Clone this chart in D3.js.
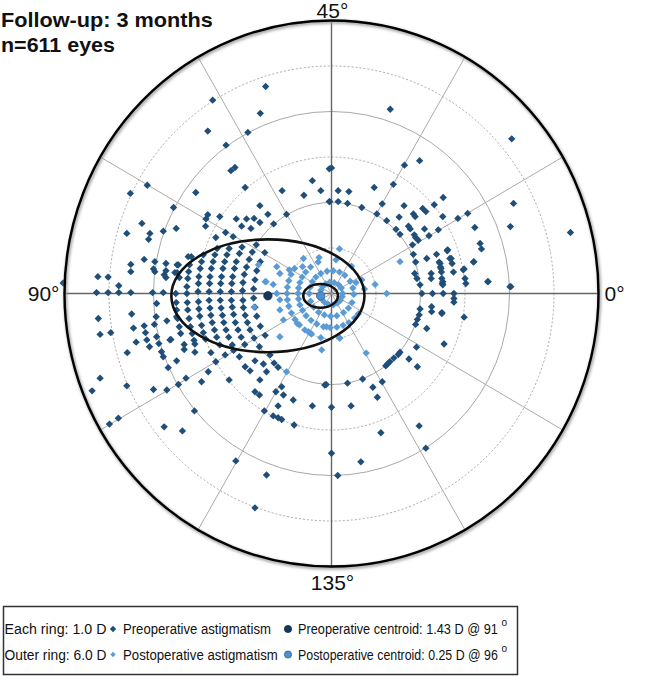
<!DOCTYPE html>
<meta charset="utf-8">
<title>Astigmatism double-angle plot</title>
<style>
body{ margin:0; background:white; }
svg text{ font-family: "Liberation Sans", Arial, sans-serif; fill:#111; }
</style>
<body>
<script src="https://cdn.jsdelivr.net/npm/d3@7"></script>
<script>

var width = 654, height = 676;
var cx = 331.5, cy = 293.5, rx = 267, ry = 273;

var titleLines = ['Follow-up: 3 months', 'n=611 eyes'];
var ringValues = [1, 2, 3, 4, 5, 6];
var spokeAngles = d3.range(0, 360, 30); // double-angle directions of the spokes
var axisLabels = [{axis: 0, text: '0\u00b0'}, {axis: 45, text: '45\u00b0'}, {axis: 90, text: '90\u00b0'}, {axis: 135, text: '135\u00b0'}];

// double-angle vector components [x, y] in dioptres
var preop = [
	// upper left
	[-1.48,4.55],[-2.67,4.25],[-1.60,3.96],[-2.78,3.57],[-1.88,3.54],[-2.37,3.26],[-2.17,2.77],[-2.26,2.70],
	[-4.14,2.38],[-4.52,2.20],[-3.05,2.22],[-1.94,2.33],[-0.43,2.48],[-1.11,2.26],[-0.62,2.16],[-0.24,2.26],
	[-0.05,2.74],[-0.05,2.02],[-1.61,1.93],[-1.43,1.74],[-1.01,1.74],[-3.55,1.89],[-2.78,1.73],[-2.82,1.64],
	[-2.51,1.69],[-2.14,1.64],[-4.26,1.54],[-4.60,1.32],[-4.08,1.32],[-4.11,1.19],[-3.78,1.37],[-3.49,1.43],
	[-2.83,1.48],[-2.21,1.25],[-2.02,1.48],[-1.91,1.64],[-1.74,1.65],[-1.61,1.56],[-1.81,1.43],[-1.30,1.53],
	[-2.38,1.34],[-2.60,1.23],
	[-5.25,0.37],[-5.02,0.36],[-4.78,0.17],[-4.51,0.64],[-4.51,0.48],[-4.21,0.75],[-3.97,0.70],[-3.97,0.48],
	[-3.72,0.66],[-3.72,0.50],[-3.72,0.35],[-3.47,0.63],[-3.42,0.35],[-3.22,0.81],[-6.03,0.23],
	[-5.28,0.02],[-5.02,0.02],[-4.78,0.02],[-4.51,0.02],[-4.02,0.02],[-3.78,0.02],[-4.0,0.54],[-3.76,0.41],[-3.52,0.46],
	// lower left
	[-5.24,-0.55],[-5.20,-0.90],[-4.96,-0.86],[-4.49,-0.45],[-4.45,-0.76],[-4.21,-0.71],[-4.18,-0.86],[-4.15,-1.02],
	[-3.93,-0.22],[-3.94,-0.51],[-3.93,-0.95],[-3.70,-0.60],[-3.61,-1.01],[-3.48,-0.51],
	[-4.39,-1.07],[-4.59,-1.30],[-4.09,-1.17],[-3.98,-0.68],[-3.88,-1.10],[-3.82,-1.28],[-3.78,-1.39],[-3.63,-1.02],
	[-3.67,-1.63],[-3.48,-1.48],[-3.44,-2.00],[-3.31,-1.12],[-3.31,-1.23],[-3.27,-1.86],[-3.07,-1.11],[-3.07,-1.29],
	[-2.92,-1.94],[-2.77,-1.72],[-2.71,-1.30],[-2.60,-1.50],[-2.39,-1.35],[-2.30,-1.90],[-2.20,-1.25],[-2.07,-1.39],
	[-1.94,-1.61],[-1.83,-1.70],[-1.72,-1.48],[-1.72,-2.16],[-1.62,-2.23],[-1.61,-1.90],[-1.53,-1.55],[-1.46,-1.72],
	[-1.38,-1.35],[-1.29,-1.53],[-1.25,-2.16],[-1.20,-1.62],[-1.12,-2.05],[-1.08,-2.23],[-1.20,-2.47],[-1.31,-2.69],
	[-1.20,-2.73],[-1.12,-2.77],[-1.51,-2.58],[-0.86,-2.34],[-0.84,-2.89],[-0.43,-2.47],[-0.15,-2.01],[0,-2.50],
	[0,-3.51],[-3.08,-2.58],[-3.76,-2.93],[-3.35,-3.02],[-4.79,-2.74],[-4.99,-2.87],[-5.38,-2.14],[-5.20,-1.86],
	[-4.60,-2.03],[-4.00,-2.11],[-3.70,-2.12],[-2.15,-3.68],[-1.46,-3.99],[-1.72,-4.71],
	// dense band left of centre
	[-3.44,0.63],[-3.47,0.46],[-3.5,0],[-3.49,-0.20],[-3.48,-0.36],[-3.46,-0.55],[-3.42,-0.73],[-3.39,-0.88],
	[-3.15,0.81],[-3.19,0.63],[-3.21,0.48],[-3.23,0.33],[-3.25,0.15],[-3.25,0],[-3.24,-0.20],[-3.23,-0.36],
	[-3.20,-0.55],[-3.17,-0.73],[-3.13,-0.88],[-3.09,-1.03],
	[-2.88,0.85],[-2.92,0.70],[-2.95,0.55],[-2.98,0.37],[-2.99,0.22],[-3.0,0.04],[-2.99,-0.18],[-2.98,-0.34],
	[-2.96,-0.50],[-2.92,-0.70],[-2.88,-0.86],[-2.83,-1.0],
	[-2.57,0.99],[-2.62,0.85],[-2.66,0.70],[-2.70,0.55],[-2.73,0.37],[-2.74,0.22],[-2.75,0.04],[-2.75,-0.15],
	[-2.73,-0.32],[-2.71,-0.48],[-2.68,-0.64],[-2.63,-0.80],[-2.58,-0.96],[-2.51,-1.13],
	[-2.30,0.99],[-2.35,0.85],[-2.40,0.70],[-2.44,0.55],[-2.47,0.37],[-2.49,0.22],[-2.5,0.04],[-2.5,-0.15],
	[-2.48,-0.32],[-2.45,-0.48],[-2.42,-0.64],[-2.37,-0.80],[-2.31,-0.96],[-2.23,-1.13],
	[-2.01,1.02],[-2.07,0.88],[-2.14,0.70],[-2.18,0.55],[-2.22,0.37],[-2.24,0.22],[-2.25,0.04],[-2.25,-0.15],
	[-2.23,-0.30],[-2.20,-0.46],[-2.16,-0.64],[-2.10,-0.80],[-2.03,-0.96],[-1.95,-1.12],
	[-1.69,1.07],[-1.78,0.91],[-1.85,0.75],[-1.91,0.58],[-1.96,0.42],[-1.99,0.24],[-2.0,0.06],[-1.99,-0.15],
	[-1.98,-0.31],[-1.94,-0.48],[-1.89,-0.64],[-1.83,-0.80],[-1.74,-0.98],[-1.62,-1.17],
	[-1.50,0.90],[-1.60,0.70],[-1.68,0.50],[-1.72,0.30],[-1.75,0.10],[-1.75,-0.10],[-1.72,-0.30],[-1.68,-0.50],
	[-1.60,-0.72],[-1.49,-0.92],
	// upper right
	[1.32,4.05],[4.05,3.40],[5.37,1.34],[4.09,1.98],[4.02,1.47],[4.01,0.15],[0,2.76],[-0.04,2.02],
	[0.15,2.02],[0.36,1.98],[0.15,2.26],[0.39,2.24],[0.68,1.89],[0.96,2.33],[1.02,1.75],[1.14,1.97],
	[1.39,2.40],[1.64,2.82],[1.98,2.92],[1.24,1.60],[1.45,1.41],[1.54,1.30],[1.52,1.68],[1.63,1.93],
	[1.84,1.75],[1.88,1.69],[2.05,1.87],[2.12,1.80],[2.31,1.95],[2.51,2.11],[2.50,1.69],[2.09,1.42],
	[1.73,1.48],[1.77,1.42],[1.86,1.29],[1.89,1.23],[1.95,1.17],[2.19,1.27],[2.40,1.40],[2.84,1.65],
	[3.06,1.76],[3.22,1.45],[3.34,1.10],[3.37,0.98],[3.20,0.70],[3.51,0.26],[1.82,1.07],[1.84,0.86],
	[1.89,0.69],[1.87,0.44],[1.92,0.33],[1.99,0.19],[2.14,0.77],[2.24,0.44],[2.24,0.33],[2.36,0.86],
	[2.42,0.69],[2.45,0.58],[2.47,0.47],[2.48,0.33],[2.49,0.22],[2.61,0.96],[2.69,0.77],[2.71,0.66],
	[2.74,0.47],[2.96,0.52],[3.0,0.33],[3.02,0.22],[2.60,0.94],[2.66,0.77],[2.44,0.66],[2.46,0.55],
	[2.50,0.26],[2.50,0.19],[3.19,0.69],[2.98,0.54],[3.52,0.26],[4.03,0.15],
	// lower right
	[2.03,0],[2.27,0],[2.51,0],[2.75,0],[2.75,-0.11],[2.75,-0.19],[2.48,-0.42],[2.98,-0.52],[2.53,-1.11],
	[2.25,-0.29],[2.25,-0.40],[2.48,-0.44],[1.99,-0.34],[1.97,-0.47],[1.93,-0.57],[1.89,-0.68],[2.14,-0.77],
	[1.91,-1.18],[1.93,-1.61],[1.74,-1.44],[1.54,-1.29],[1.50,-1.34],[1.40,-1.42],[1.31,-1.50],[1.26,-1.55],
	[1.22,-1.59],[0.70,-1.88],[0.36,-1.97],[-0.12,-2.0],[0.93,-2.06],[1.14,-1.94],[1.03,-2.28],[0.44,-2.47],
	[1.11,-3.06],[1.97,-2.91],[2.12,-3.40],[0.66,-3.70],[0.14,-4.00]
];

var postop = [
	[0.25,0],[0.22,0.12],[0.16,0.19],[0.06,0.24],[-0.04,0.25],[-0.13,0.21],[-0.20,0.15],[-0.24,0.07],
	[-0.25,-0.03],[-0.22,-0.12],[-0.16,-0.19],[-0.07,-0.24],[0.04,-0.25],[0.13,-0.21],[0.20,-0.15],[0.24,-0.07],
	[-0.50,0],[-0.48,0.14],[-0.43,0.26],[-0.35,0.36],[-0.24,0.44],[-0.10,0.49],[0.04,0.50],[0.18,0.47],
	[0.30,0.40],[0.42,0.27],[0.48,0.12],[0.50,-0.02],[0.46,-0.20],[0.38,-0.32],[0.27,-0.42],[0.12,-0.49],
	[-0.02,-0.50],[-0.16,-0.47],[-0.29,-0.41],[-0.40,-0.30],[-0.47,-0.17],
	[-0.75,0],[-0.74,0.12],[-0.71,0.24],[-0.66,0.36],[-0.58,0.47],[-0.47,0.58],[-0.74,-0.12],[-0.71,-0.25],
	[-0.65,-0.37],[-0.57,-0.49],[-0.46,-0.59],[-0.33,-0.67],[-0.18,-0.73],[-0.03,-0.75],[0.12,-0.74],[0.26,-0.70],
	[0.39,-0.64],[0.52,-0.54],[0.60,-0.45],[-0.30,0.69],[0.10,0.74],[0.45,0.60],[0.68,0.30],[0.74,0.10],
	[-1.0,0],[-0.99,0.14],[-0.96,0.28],[-0.91,0.42],[-0.83,0.55],[-0.99,-0.14],[-0.96,-0.28],[-0.90,-0.43],
	[-0.82,-0.57],[-0.72,-0.69],[-0.60,-0.80],[-0.45,-0.89],[-0.24,-0.97],[0.19,-0.98],[0.18,0.98],[-0.63,0.77],
	[0.98,0.20],
	[-1.23,0],[-1.31,0.20],[-1.16,0.44],[-1.23,0.59],[-1.49,0.26],[-1.64,0.63],[-1.74,-0.30],[-1.16,-0.14],
	[-1.16,-0.36],[-1.08,-0.58],[-1.16,-0.95],[-1.01,-1.72],[-0.77,-0.66],[-0.48,-0.87],[-0.22,-1.24],[0.78,-1.31],
	[0.18,-0.98],[-0.11,-0.73],[1.24,0],[1.54,0.70],[0.55,0.24],[-0.28,0.79],[-0.65,0.59],[-0.95,0.52],
	[-1.47,0.26],[-0.52,-0.84]
];

// centroids [magnitude D, axis deg] and 95% ellipse half-axes [D, D]
var preCentroid = [1.43, 91], postCentroid = [0.25, 96];
var preEllipse = [2.17, 1.24], postEllipse = [0.39, 0.26];

var legendNotes = ['Each ring: 1.0 D', 'Outer ring: 6.0 D'];
var legendPoints = ['Preoperative astigmatism', 'Postoperative astigmatism'];
var legendCentroids = ['Preoperative centroid: 1.43 D @ 91', 'Postoperative centroid: 0.25 D @ 96'];

var preColor = '#1f4e79', postColor = '#5b9bd5';
var preCentroidColor = '#15375c', postCentroidColor = '#4f8fcf';

var x = d3.scaleLinear().domain([-6, 6]).range([cx - rx, cx + rx]);
var y = d3.scaleLinear().domain([-6, 6]).range([cy + ry, cy - ry]);

function vec(m, axis){
	var a = axis * 2 * Math.PI / 180;
	return [m * Math.cos(a), m * Math.sin(a)];
}

// text scaled horizontally to the width it has in the figure
function fitText(g, str, px, py, size, len, bold){
	var t = g.append('text')
		.attr('x', 0).attr('y', 0)
		.attr('font-size', size)
		.attr('font-weight', bold ? 'bold' : null)
		.text(str);
	var natural = t.node().getComputedTextLength();
	t.attr('transform', 'translate(' + px + ',' + py + ') scale(' + (len / natural) + ',1)');
	return t;
}

var svg = d3.select('body').append('svg')
	.attr('width', width)
	.attr('height', height);

var defs = svg.append('defs');
defs.append('filter').attr('id', 'soft')
	.append('feGaussianBlur').attr('stdDeviation', 1.6);

// title
fitText(svg, titleLines[0], 1, 27, 20, 212, true);
fitText(svg, titleLines[1], 1, 52, 20, 114, true);

// rings
var grid = svg.append('g');
grid.selectAll('ellipse')
	.data(ringValues.slice(0, -1))
	.enter()
	.append('ellipse')
	.attr('cx', x(0))
	.attr('cy', y(0))
	.attr('rx', function(d){ return x(d) - x(0); })
	.attr('ry', function(d){ return y(0) - y(d); })
	.attr('fill', 'none')
	.attr('stroke', '#a8a8a8')
	.attr('stroke-width', 1)
	.attr('stroke-dasharray', function(d){ return d % 2 ? '2,2' : null; });

// spokes
grid.selectAll('line')
	.data(spokeAngles)
	.enter()
	.append('line')
	.attr('x1', x(0))
	.attr('y1', y(0))
	.attr('x2', function(d){ return x(6 * Math.cos(d * Math.PI / 180)); })
	.attr('y2', function(d){ return y(6 * Math.sin(d * Math.PI / 180)); })
	.attr('stroke', function(d){ return d % 90 ? '#aaaaaa' : '#666'; })
	.attr('stroke-width', function(d){ return d % 90 ? 1 : 1.4; });

// points
var marker = d3.symbol().type(d3.symbolSquare).size(27);

function drawPoints(data, color){
	svg.append('g')
		.selectAll('path')
		.data(data)
		.enter()
		.append('path')
		.attr('d', marker)
		.attr('transform', function(d){ return 'translate(' + x(d[0]) + ',' + y(d[1]) + ') rotate(45)'; })
		.attr('fill', color);
}
drawPoints(preop, preColor);
drawPoints(postop, postColor);

// ellipses around the centroids
[[preCentroid, preEllipse], [postCentroid, postEllipse]].forEach(function(e){
	var c = vec(e[0][0], e[0][1]);
	svg.append('ellipse')
		.attr('cx', x(c[0]))
		.attr('cy', y(c[1]))
		.attr('rx', x(e[1][0]) - x(0))
		.attr('ry', y(0) - y(e[1][1]))
		.attr('fill', 'none')
		.attr('stroke', '#111')
		.attr('stroke-width', 2.6);
});

// centroids
[[preCentroid, preCentroidColor, '#0e2a48'], [postCentroid, postCentroidColor, '#2e5f8f']].forEach(function(e){
	var c = vec(e[0][0], e[0][1]);
	svg.append('circle')
		.attr('cx', x(c[0]))
		.attr('cy', y(c[1]))
		.attr('r', 4.2)
		.attr('fill', e[1])
		.attr('stroke', e[2])
		.attr('stroke-width', 0.8);
});

// outer ring with a soft shadow
svg.append('ellipse')
	.attr('cx', x(0) + 1).attr('cy', y(0) + 1.5)
	.attr('rx', x(6) - x(0)).attr('ry', y(0) - y(6))
	.attr('fill', 'none').attr('stroke', '#999').attr('stroke-width', 3)
	.attr('filter', 'url(#soft)');
svg.append('ellipse')
	.attr('cx', x(0)).attr('cy', y(0))
	.attr('rx', x(6) - x(0)).attr('ry', y(0) - y(6))
	.attr('fill', 'none').attr('stroke', '#000').attr('stroke-width', 2.4);

// axis labels
svg.selectAll('.axislabel')
	.data(axisLabels)
	.enter()
	.append('text')
	.attr('font-size', 21)
	.attr('text-anchor', function(d){ return d.axis == 0 ? 'start' : d.axis == 90 ? 'end' : 'middle'; })
	.attr('x', function(d){
		var v = vec(6, d.axis);
		return x(v[0]) + (d.axis == 0 ? 6 : d.axis == 90 ? -5 : 1);
	})
	.attr('y', function(d){
		var v = vec(6, d.axis);
		return y(v[1]) + (d.axis == 45 ? -3 : d.axis == 135 ? 23 : 7);
	})
	.text(function(d){ return d.text; });

// legend
var legend = svg.append('g');
legend.append('rect')
	.attr('x', 3.5).attr('y', 606.5)
	.attr('width', 514).attr('height', 68)
	.attr('fill', 'white').attr('stroke', '#333').attr('stroke-width', 1.5);

var noteWidths = [102, 102], pointWidths = [148, 155], centroidWidths = [200, 200];
legendNotes.forEach(function(t, i){
	var by = 634 + i * 25.5;
	fitText(legend, t, 4.5, by, 15, noteWidths[i]);
	legend.append('path')
		.attr('d', d3.symbol().type(d3.symbolSquare).size(i ? 14 : 20))
		.attr('transform', 'translate(113,' + (by - 5) + ') rotate(45)')
		.attr('fill', i ? postColor : preColor);
	fitText(legend, legendPoints[i], 123, by, 15, pointWidths[i]);
	legend.append('circle')
		.attr('cx', 288).attr('cy', by - 5).attr('r', 3.6)
		.attr('fill', i ? postCentroidColor : preCentroidColor)
		.attr('stroke', i ? '#2e5f8f' : '#0e2a48').attr('stroke-width', 0.8);
	fitText(legend, legendCentroids[i], 298, by, 15, centroidWidths[i]);
	legend.append('text').attr('x', 501.5).attr('y', by - 8).attr('font-size', 10).text('o');
});

</script>
</body>
